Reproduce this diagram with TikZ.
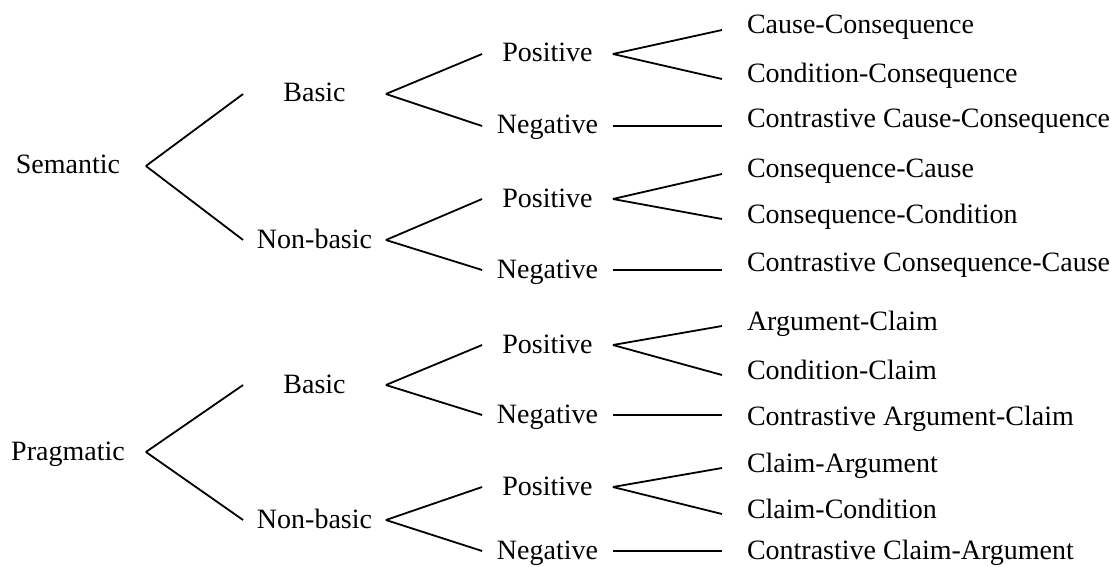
\documentclass[tikz,border=0pt]{standalone}
\usepackage{fontspec}
\setmainfont{Liberation Serif}

\begin{document}
\begin{tikzpicture}[x=1pt,y=-1pt,line width=1.8pt,
    lbl/.style={inner sep=0pt,text height=16pt,text depth=0pt,
        font=\fontsize{28}{34}\selectfont},
    lvlone/.style={lbl,minimum width=154pt},
    lvltwo/.style={lbl,minimum width=141pt},
    lvlthree/.style={lbl,minimum width=129pt},
    leaf/.style={lbl,text height=8pt,anchor=west,outer xsep=25pt}]
    \pgfmathsetmacro{\xa}{68}
    \pgfmathsetmacro{\xb}{314.5}
    \pgfmathsetmacro{\xc}{547.5}
    \pgfmathsetmacro{\xd}{722}
    \useasboundingbox (0,0) rectangle (1111,567);

    % Draw the labels
    \node [lvlone] (sem) at (\xa,166) {Semantic};
    \node [lvlone] (prag) at (\xa,452) {Pragmatic};

    \node [lvltwo] (basa) at (\xb,94) {Basic};
    \node [lvltwo] (nbasa) at (\xb,240) {Non-basic};
    \node [lvltwo] (basb) at (\xb,385) {Basic};
    \node [lvltwo] (nbasb) at (\xb,520) {Non-basic};

    \node [lvlthree] (posa) at (\xc,54) {Positive};
    \node [lvlthree] (nega) at (\xc,126) {Negative};
    \node [lvlthree] (posb) at (\xc,199) {Positive};
    \node [lvlthree] (negb) at (\xc,270) {Negative};
    \node [lvlthree] (posc) at (\xc,345) {Positive};
    \node [lvlthree] (negc) at (\xc,415) {Negative};
    \node [lvlthree] (posd) at (\xc,487) {Positive};
    \node [lvlthree] (negd) at (\xc,551) {Negative};

    \node [leaf] (cc) at (\xd,30) {Cause-Consequence};
    \node [leaf] (condc) at (\xd,79) {Condition-Consequence};
    \node [leaf] (ccc) at (\xd,124) {Contrastive Cause-Consequence};
    \node [leaf] (csc) at (\xd,174) {Consequence-Cause};
    \node [leaf] (cscond) at (\xd,219) {Consequence-Condition};
    \node [leaf] (ccsc) at (\xd,267) {Contrastive Consequence-Cause};
    \node [leaf] (ac) at (\xd,326) {Argument-Claim};
    \node [leaf] (condcl) at (\xd,375) {Condition-Claim};
    \node [leaf] (cac) at (\xd,421) {Contrastive Argument-Claim};
    \node [leaf] (ca) at (\xd,468) {Claim-Argument};
    \node [leaf] (clcond) at (\xd,514) {Claim-Condition};
    \node [leaf] (cca) at (\xd,555) {Contrastive Claim-Argument};

    % Draw the branches
    \draw (sem.east) -- (basa.west);
    \draw (sem.east) -- (nbasa.west);
    \draw (prag.east) -- (basb.west);
    \draw (prag.east) -- (nbasb.west);

    \draw (basa.east) -- (posa.west);
    \draw (basa.east) -- (nega.west);
    \draw (nbasa.east) -- (posb.west);
    \draw (nbasa.east) -- (negb.west);
    \draw (basb.east) -- (posc.west);
    \draw (basb.east) -- (negc.west);
    \draw (nbasb.east) -- (posd.west);
    \draw (nbasb.east) -- (negd.west);

    \draw (posa.east) -- (cc.west);
    \draw (posa.east) -- (condc.west);
    \draw (nega.east) -- (nega.east -| ccc.west);
    \draw (posb.east) -- (csc.west);
    \draw (posb.east) -- (cscond.west);
    \draw (negb.east) -- (negb.east -| ccsc.west);
    \draw (posc.east) -- (ac.west);
    \draw (posc.east) -- (condcl.west);
    \draw (negc.east) -- (negc.east -| cac.west);
    \draw (posd.east) -- (ca.west);
    \draw (posd.east) -- (clcond.west);
    \draw (negd.east) -- (negd.east -| cca.west);

\end{tikzpicture}
\end{document}
